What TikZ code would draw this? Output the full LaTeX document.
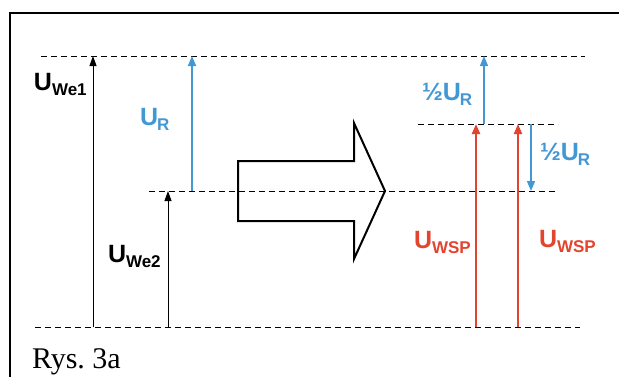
\documentclass[tikz,border=0pt]{standalone}
\usepackage{fontspec}
\setmainfont{Liberation Serif}
\setsansfont{Liberation Sans}
\usetikzlibrary{arrows.meta}
\definecolor{ublue}{RGB}{66,152,212}
\definecolor{ured}{RGB}{226,68,48}
\newcommand{\vlab}[2]{{\sffamily\bfseries\fontsize{25}{25}\selectfont #1\raisebox{-5pt}{\fontsize{17}{17}\selectfont #2}}}
\begin{document}
\begin{tikzpicture}[x=1pt,y=-1pt,
  level/.style={dash pattern=on 6pt off 4pt, line width=0.9pt},
  blk/.style={line width=0.9pt,-{Triangle[length=10pt,width=7pt]}},
  blu/.style={ublue,line width=1.4pt,-{Triangle[length=10pt,width=8pt]}},
  rd/.style={ured,line width=2pt,-{Triangle[length=10pt,width=8pt]}},
  lab/.style={anchor=base west,inner sep=0pt,outer sep=0pt}]
\useasboundingbox (0,0) rectangle (619,376);
% frame
\draw[line width=2pt] (10,377) -- (10,13) -- (620,13);
% level lines
\coordinate (t1) at (41,56);  \coordinate (t2) at (585,56);
\coordinate (m1) at (418,124); \coordinate (m2) at (558,124);
\coordinate (c1) at (149,191); \coordinate (c2) at (558,191);
\coordinate (b1) at (35,327);  \coordinate (b2) at (580,327);
\draw[level] (t1) -- (t2);
\draw[level] (m1) -- (m2);
\draw[level] (c1) -- (c2);
\draw[level] (b1) -- (b2);
% left arrows
\coordinate (a1s) at (93,327); \coordinate (a1e) at (93,56);
\coordinate (a2s) at (168,327); \coordinate (a2e) at (168,191);
\coordinate (a3s) at (192,191); \coordinate (a3e) at (192,56);
\draw[blk] (a1s) -- (a1e);
\draw[blk] (a2s) -- (a2e);
\draw[blu] (a3s) -- (a3e);
% right arrows
\coordinate (r1s) at (476,327); \coordinate (r1e) at (476,124);
\coordinate (r2s) at (518,327); \coordinate (r2e) at (518,124);
\coordinate (b3s) at (484,124); \coordinate (b3e) at (484,56);
\coordinate (b4s) at (531,124); \coordinate (b4e) at (531,191);
\draw[rd] (r1s) -- (r1e);
\draw[rd] (r2s) -- (r2e);
\draw[blu] (b3s) -- (b3e);
\draw[blu] (b4s) -- (b4e);
% big arrow
\draw[line width=2pt,line join=miter] (238,161) -- (354,161) -- (354,123) -- (385,191) -- (354,259) -- (354,221) -- (238,221) -- cycle;
% labels
\node[lab] (lwe1) at (34,90) {\vlab{U}{We1}};
\node[lab,text=ublue] (lur) at (140,125) {\vlab{U}{\kern-1pt R}};
\node[lab] (lwe2) at (108,262) {\vlab{U}{We2}};
\node[lab,text=ublue] (lhur1) at (422,100) {\vlab{½U}{\kern-1pt R}};
\node[lab,text=ublue] (lhur2) at (540,160) {\vlab{½U}{\kern-1pt R}};
\node[lab,text=ured] (lw1) at (414,248) {\vlab{U}{WSP}};
\node[lab,text=ured] (lw2) at (539,247) {\vlab{U}{WSP}};
\node[lab] (rys) at (32,368) {\fontsize{30}{30}\selectfont Rys.\ 3a};
\end{tikzpicture}
\end{document}
